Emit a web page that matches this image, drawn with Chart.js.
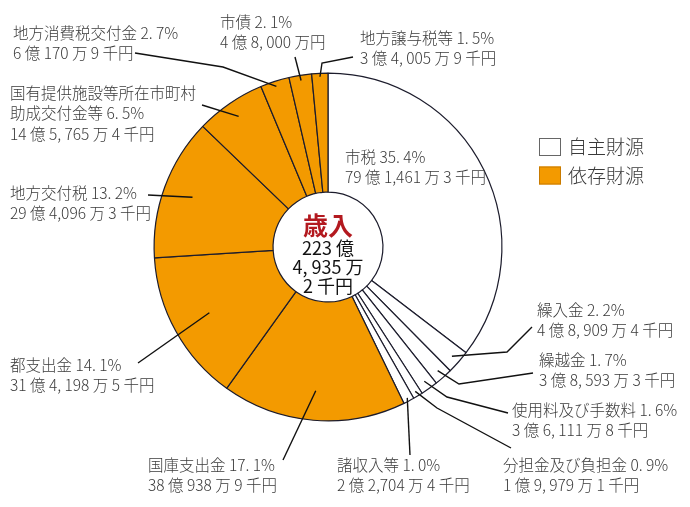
<!DOCTYPE html>
<html>
<head>
<meta charset="utf-8">
<script src="https://cdn.jsdelivr.net/npm/chart.js@4/dist/chart.umd.min.js"></script>
<style>
  html, body { margin: 0; padding: 0; background: #fff; }
  #wrap { width: 690px; height: 507px; position: relative; }
</style>
</head>
<body>
<div id="wrap"><canvas id="chart"></canvas></div>
<script>
// revenue items, clockwise from 12 o'clock
const categories = [
  "市税", "繰入金", "繰越金", "使用料及び手数料", "分担金及び負担金", "諸収入等",
  "国庫支出金", "都支出金", "地方交付税", "国有提供施設等所在市町村\n助成交付金等",
  "地方消費税交付金", "市債", "地方譲与税等",
];
const percents = [35.4, 2.2, 1.7, 1.6, 0.9, 1.0, 17.1, 14.1, 13.2, 6.5, 2.7, 2.1, 1.5];
const amounts = [
  "79 億 1,461 万 3 千円", "4 億 8, 909 万 4 千円", "3 億 8, 593 万 3 千円",
  "3 億 6, 111 万 8 千円", "1 億 9, 979 万 1 千円", "2 億 2,704 万 4 千円",
  "38 億 938 万 9 千円", "31 億 4, 198 万 5 千円", "29 億 4,096 万 3 千円",
  "14 億 5, 765 万 4 千円", "6 億 170 万 9 千円", "4 億 8, 000 万円",
  "3 億 4, 005 万 9 千円",
];
// 0 = 自主財源, 1 = 依存財源
const sourceType = [0, 0, 0, 0, 0, 0, 1, 1, 1, 1, 1, 1, 1];
const legendLabels = ["自主財源", "依存財源"];
const centerTitle = "歳入";
const centerLines = ["223 億", "4, 935 万", "2 千円"];

const fillColors = ["#ffffff", "#f39a00"];
const textColor = "#3a3a3a";
const fontFamily = "'Noto Sans CJK JP', 'Noto Sans', sans-serif";

// label placement: text anchor (x, first line center y), leader start as a
// fraction of the slice radius, then the elbow / end points of the leader
const labelLayout = [
  {x: 345, y: 157, r: null, path: []},
  {x: 537, y: 310, r: 0.95, path: [[507, 352], [532, 327]]},
  {x: 539, y: 360, r: 0.95, path: [[459, 384], [533, 373]]},
  {x: 512, y: 410, r: 0.95, path: [[447, 397], [508, 413]]},
  {x: 503, y: 465, r: 0.97, path: [[437, 408], [511, 448]]},
  {x: 337, y: 465, r: 0.98, path: [[410, 455]]},
  {x: 148, y: 465, r: 0.83, path: [[283, 460]]},
  {x: 10, y: 365, r: 0.78, path: [[138, 363]]},
  {x: 10, y: 193, r: 0.83, path: [[148, 195]]},
  {x: 10, y: 93, r: 0.91, path: [[202, 105]]},
  {x: 13, y: 33, r: 0.97, path: [[223, 67], [135, 53]]},
  {x: 220, y: 22, r: 0.97, path: [[295, 57]]},
  {x: 360, y: 38, r: 0.98, path: [[322, 63], [353, 57]]},
];

function pctText(p) {
  return p.toFixed(1).replace(".", ". ") + "%";
}

const labelPlugin = {
  id: "labels",
  afterDraw(chart) {
    const {ctx} = chart;
    const arcs = chart.getDatasetMeta(0).data;
    ctx.save();

    // leader lines
    ctx.strokeStyle = "#111";
    ctx.lineWidth = 1.4;
    arcs.forEach((arc, i) => {
      const lay = labelLayout[i];
      if (lay.r === null) return;
      const {x, y, startAngle, endAngle, outerRadius} = arc.getProps(
        ["x", "y", "startAngle", "endAngle", "outerRadius"], true);
      const mid = (startAngle + endAngle) / 2;
      ctx.beginPath();
      ctx.moveTo(x + Math.cos(mid) * outerRadius * lay.r, y + Math.sin(mid) * outerRadius * lay.r);
      for (const [px, py] of lay.path) ctx.lineTo(px, py);
      ctx.stroke();
    });

    // label texts
    ctx.fillStyle = textColor;
    ctx.font = "300 15.5px " + fontFamily;
    ctx.textAlign = "left";
    ctx.textBaseline = "middle";
    categories.forEach((cat, i) => {
      const lay = labelLayout[i];
      const lines = cat.split("\n");
      lines[lines.length - 1] += " " + pctText(percents[i]);
      lines.push(amounts[i]);
      lines.forEach((t, k) => ctx.fillText(t, lay.x, lay.y + k * 20.5));
    });

    // centre text
    const cx = arcs[0].x;
    ctx.textAlign = "center";
    ctx.fillStyle = "#b3191f";
    ctx.font = "bold 25px " + fontFamily;
    ctx.fillText(centerTitle, cx, 225);
    ctx.fillStyle = "#111";
    ctx.font = "18px " + fontFamily;
    centerLines.forEach((t, k) => ctx.fillText(t, cx, 248 + k * 19));

    // legend
    ctx.textAlign = "left";
    ctx.font = "300 19px " + fontFamily;
    legendLabels.forEach((t, k) => {
      const by = 138 + k * 28.5;
      ctx.fillStyle = fillColors[k];
      ctx.fillRect(539, by, 22, 18);
      ctx.strokeStyle = k === 0 ? "#666" : "#c87a00";
      ctx.lineWidth = 1;
      ctx.strokeRect(539.5, by + 0.5, 21, 17);
      ctx.fillStyle = textColor;
      ctx.fillText(t, 568, by + 9);
    });
    ctx.restore();
  },
};

new Chart(document.getElementById("chart"), {
  type: "doughnut",
  data: {
    labels: categories,
    datasets: [{
      data: percents,
      backgroundColor: sourceType.map((s) => fillColors[s]),
      borderColor: "#1c1c2c",
      borderWidth: 1.2,
    }],
  },
  options: {
    responsive: true,
    maintainAspectRatio: false,
    animation: false,
    cutout: "31.6%",
    layout: {padding: {left: 153.5, right: 187.5, top: 72.5, bottom: 85.5}},
    plugins: {
      legend: {display: false},
      tooltip: {enabled: false},
    },
  },
  plugins: [labelPlugin],
});
</script>
</body>
</html>
